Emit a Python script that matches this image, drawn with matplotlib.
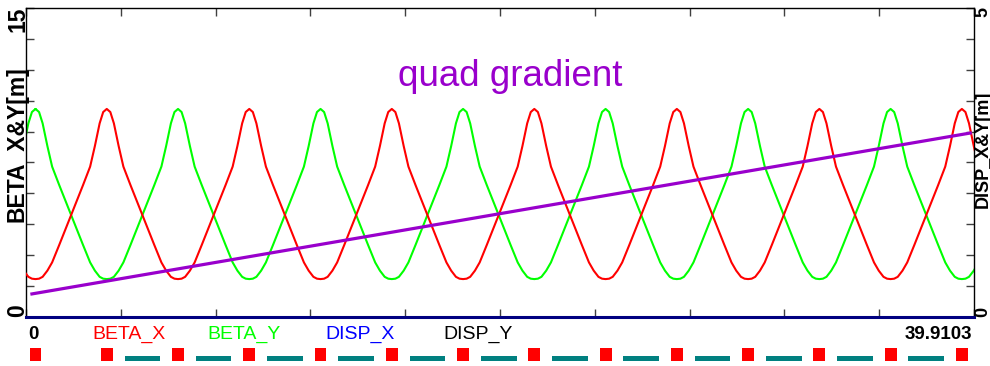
import matplotlib

matplotlib.use("Agg")
import matplotlib.pyplot as plt
import numpy as np

# ring length and axis ranges
S_MAX = 39.9103
BETA_MAX = 15
DISP_MAX = 5

# one FODO cell of beta, measured from a peak (quad) to the next peak
CELL_D = [0.0, 0.15, 0.3, 0.5, 0.7, 1.0, 1.5, 2.0, 2.3, 2.5, 2.7, 2.85, 3.0,
          3.15, 3.3, 3.5, 3.7, 4.0, 4.5, 5.0, 5.3, 5.5, 5.7, 5.85, 6.0]
CELL_BETA = [10.1, 9.95, 9.4, 8.3, 7.3, 6.4, 4.95, 3.5, 2.65, 2.25, 1.95, 1.86, 1.84,
             1.86, 1.95, 2.25, 2.65, 3.5, 4.95, 6.4, 7.3, 8.3, 9.4, 9.95, 10.1]

# where each cell starts (s of a beta peak)
BX_CELL_STARTS = [-2.6, 3.4, 9.4, 15.4, 21.4, 27.4, 33.4, 39.4]
BY_CELL_STARTS = [-5.6, 0.4, 6.4, 12.4, 18.4, 24.4, 30.4, 36.4]

# quad gradient line (endpoints, in left-axis units)
GRAD_S = [0.25, 39.75]
GRAD_V = [1.12, 8.93]

# lattice
QUAD_S = [0.4, 3.4, 6.4, 9.4, 12.4, 15.4, 18.4, 21.4, 24.4, 27.4, 30.4, 33.4, 36.4, 39.4]
DIPOLE_S = [4.9, 7.9, 10.9, 13.9, 16.9, 19.9, 22.9, 25.9, 28.9, 31.9, 34.9, 37.9]

LEGEND = [("BETA_X", "#FF0000", 92), ("BETA_Y", "#00FF00", 207),
          ("DISP_X", "#0000FF", 325), ("DISP_Y", "#000000", 443)]

W, H = 990, 366
plt.rcParams["font.family"] = ["Liberation Sans", "DejaVu Sans"]


def px(x0, y0, x1, y1):
    return [x0 / W, 1 - y1 / H, (x1 - x0) / W, (y1 - y0) / H]


def tile(starts):
    s = np.concatenate([st + np.asarray(CELL_D) for st in starts])
    b = np.concatenate([np.asarray(CELL_BETA) for _ in starts])
    return s, b


fig = plt.figure(figsize=(W / 100, H / 100), dpi=100)
ax = fig.add_axes(px(26, 8, 974, 317))

sx, bx = tile(BX_CELL_STARTS)
sy, by = tile(BY_CELL_STARTS)
ax.plot(sy, by, color="#00FF00", lw=1.5, zorder=2)
ax.plot(sx, bx, color="#FF0000", lw=1.5, zorder=3)
ax.plot(GRAD_S, GRAD_V, color="#9900CC", lw=2.3, zorder=4)

ax.set_xlim(0, S_MAX)
ax.set_ylim(0, BETA_MAX)
ax.set_xticks(np.linspace(0, S_MAX, 11))
ax.set_yticks(np.linspace(0, BETA_MAX, 11))
ax.tick_params(direction="in", length=6, width=1, color="#404040",
               top=True, right=True, labelbottom=False, labelleft=False)
for side in ("left", "top", "right"):
    ax.spines[side].set_linewidth(1)
ax.spines["bottom"].set_color("#000080")
ax.spines["bottom"].set_linewidth(2.2)

ax.text((510 - 26) / 948, 1 - 69 / 309, "quad gradient", transform=ax.transAxes,
        ha="center", va="center", fontsize=26.5, color="#9900CC")

# axis labels and end ticks, drawn by hand
def ftext(x, y, s, **kw):
    fig.text(x / W, 1 - y / H, s, **kw)


big = dict(fontweight="bold", color="black", fontsize=16.5)
ftext(18, 7, "15", rotation=90, ha="center", va="top", **big)
ftext(18, 317, "0", rotation=90, ha="center", va="bottom", **big)
ftext(17, 144, "BETA_X&Y[m]", rotation=90, ha="center", va="center", **big)

right = dict(fontweight="bold", color="black", fontsize=13)
ftext(983, 7, "5", rotation=90, ha="center", va="top", **right)
ftext(983, 317, "0", rotation=90, ha="center", va="bottom", **right)
ftext(983, 149, "DISP_X&Y[m]", rotation=90, ha="center", va="center", **right)

bold = dict(fontweight="bold", color="black", fontsize=13.5)
ftext(28, 339, "0", ha="left", va="baseline", **bold)
ftext(972, 339, "%g" % S_MAX, ha="right", va="baseline", **bold)
for name, col, x in LEGEND:
    ftext(x, 339, name, ha="left", va="baseline", fontsize=14, color=col,
          fontweight="medium")

# lattice strip
lat = fig.add_axes(px(26, 346, 974, 362))
lat.set_xlim(0, S_MAX)
lat.set_ylim(0, 16)
lat.bar(DIPOLE_S, 5, width=1.5, bottom=1, color="#008080")
lat.bar(QUAD_S, 13, width=0.5, bottom=1, color="#FF0000")
lat.axis("off")

fig.savefig("out.png", dpi=100)
